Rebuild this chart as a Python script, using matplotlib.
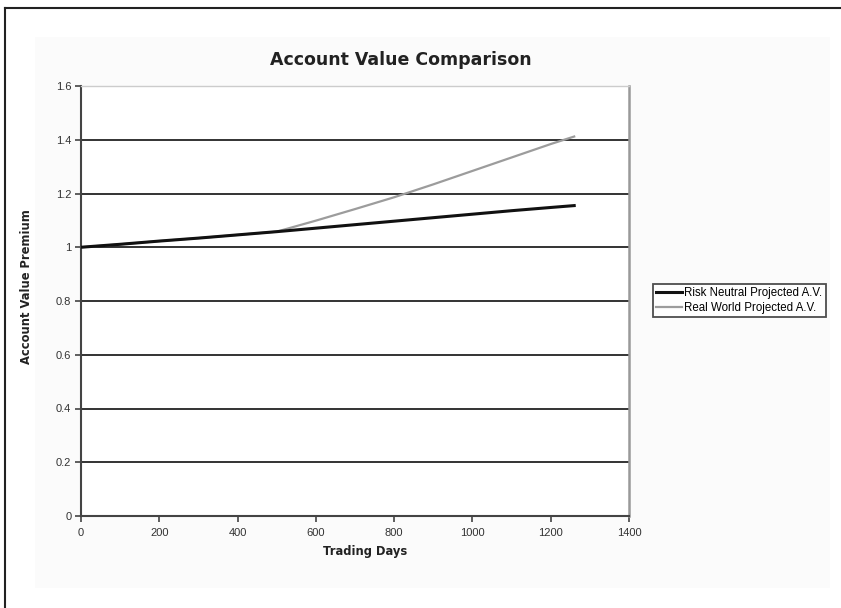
import matplotlib
matplotlib.use("Agg")
import matplotlib.pyplot as plt
from matplotlib.patches import Rectangle
from matplotlib.lines import Line2D

days = [0, 100, 200, 300, 400, 500, 600, 700, 800, 900, 1000, 1100, 1200, 1260]
risk_neutral = [1.000, 1.011, 1.023, 1.034, 1.046, 1.058, 1.071, 1.084, 1.097, 1.110, 1.123, 1.136, 1.148, 1.155]
real_world = [1.000, 1.011, 1.023, 1.034, 1.046, 1.058, 1.099, 1.142, 1.186, 1.234, 1.284, 1.334, 1.384, 1.412]
x_ticks = [0, 200, 400, 600, 800, 1000, 1200, 1400]
y_ticks = [0, 0.2, 0.4, 0.6, 0.8, 1.0, 1.2, 1.4, 1.6]
y_tick_labels = ["0", "0.2", "0.4", "0.6", "0.8", "1", "1.2", "1.4", "1.6"]

W, H = 841, 608
fig = plt.figure(figsize=(W / 100, H / 100), dpi=100)
fig.patch.set_facecolor("white")

# outer chart border (left & top visible, rest cut off)
fig.add_artist(Line2D([5 / W, 5 / W], [0, 1 - 8 / H], transform=fig.transFigure, color="#222222", lw=1.5))
fig.add_artist(Line2D([5 / W, 1], [1 - 8 / H, 1 - 8 / H], transform=fig.transFigure, color="#222222", lw=1.5))
# faint background band
fig.add_artist(Rectangle((35 / W, 1 - 588 / H), 795 / W, 551 / H, transform=fig.transFigure,
                         facecolor="#fbfbfb", edgecolor="none", zorder=-5))

ax = fig.add_axes([81 / W, 1 - 516 / H, 548 / W, 430 / H])
ax.set_facecolor("white")

ax.plot(days, real_world, color="#9c9c9c", lw=1.6, label="Real World Projected A.V.", zorder=3)
ax.plot(days, risk_neutral, color="#111111", lw=2.2, label="Risk Neutral Projected A.V.", zorder=4)

ax.set_xlim(0, 1400)
ax.set_ylim(0, 1.6)
ax.set_xticks(x_ticks)
ax.set_yticks(y_ticks)
ax.set_yticklabels(y_tick_labels)
ax.set_xticklabels([str(t) for t in x_ticks])

for y in y_ticks[1:-1]:
    ax.axhline(y, color="#333333", lw=1.4, zorder=1)

ax.spines["left"].set_color("#444444")
ax.spines["left"].set_linewidth(1.5)
ax.spines["bottom"].set_color("#444444")
ax.spines["bottom"].set_linewidth(1.5)
ax.spines["right"].set_color("#999999")
ax.spines["right"].set_linewidth(1.8)
ax.spines["top"].set_color("#cccccc")
ax.spines["top"].set_linewidth(1.0)

ax.tick_params(axis="both", direction="out", length=4, width=1.2, color="#444444",
               labelsize=8, labelcolor="#333333")
ax.tick_params(axis="x", pad=4.5)
ax.tick_params(axis="y", pad=3)
for lbl in ax.get_xticklabels() + ax.get_yticklabels():
    lbl.set_fontfamily("Liberation Sans")

fig.text(401 / W, 1 - 60 / H, "Account Value Comparison", ha="center", va="center",
         fontsize=12.5, fontweight="bold", family="DejaVu Sans", color="#222222")
fig.text(365 / W, 1 - 552 / H, "Trading Days", ha="center", va="center",
         fontsize=8.3, fontweight="bold", family="DejaVu Sans", color="#222222")
fig.text(27 / W, 1 - 287 / H, "Account Value Premium", ha="center", va="center", rotation=90,
         fontsize=8.3, fontweight="bold", family="DejaVu Sans", color="#222222")

handles, labels = ax.get_legend_handles_labels()
leg = fig.legend(handles[::-1], labels[::-1], loc="center left",
                 bbox_to_anchor=(653 / W, 1 - 300.5 / H),
                 prop={"family": "Liberation Sans", "size": 8.3},
                 frameon=True, fancybox=False, edgecolor="#222222",
                 handlelength=2.2, handletextpad=0.2, borderpad=0.3, labelspacing=0.25,
                 borderaxespad=0)
leg.get_frame().set_linewidth(1.3)

fig.savefig("out.png", dpi=100)
